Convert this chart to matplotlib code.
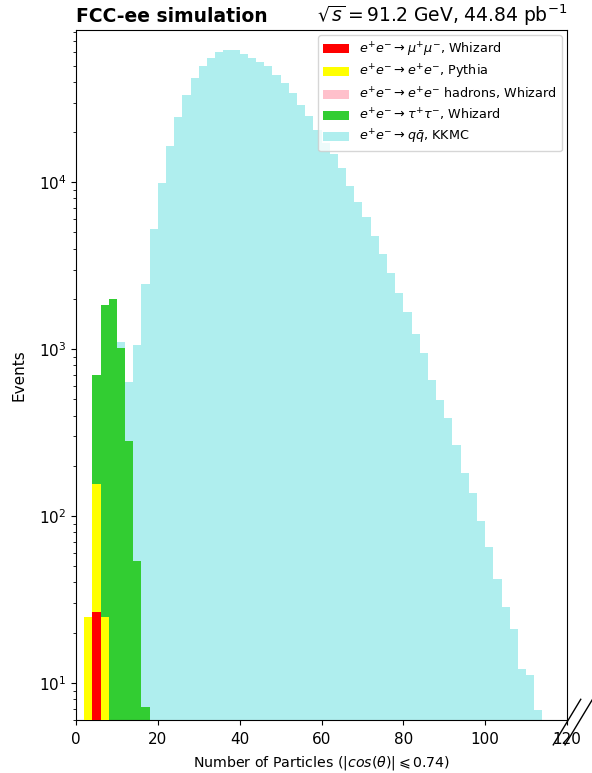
import numpy as np
import matplotlib
matplotlib.use("Agg")
import matplotlib.pyplot as plt
from matplotlib.patches import Patch

# ---------------- data ----------------
bin_width = 2
mumu_start = 4
mumu_counts = [26.5]
ee_start = 2
ee_counts = [24.8, 155, 24.8]
eehad_start = 0
eehad_counts = []
tautau_start = 4
tautau_counts = [700, 1830, 2005, 1010, 280, 54, 7.2]
qq_start = 10
qq_counts = [1107, 638, 1057, 2466, 5250, 9860, 16500, 24700, 33500, 42100,
             49600, 55800, 60200, 62100, 61800, 58500, 55500, 52900, 49400, 44100,
             39300, 34300, 29200, 25100, 20700, 17300, 14700, 12200, 9510, 7570,
             6160, 4790, 3700, 2850, 2180, 1670, 1240, 942, 653, 496,
             386, 268, 181, 138, 94, 65, 42, 28.4, 21.1, 12.2,
             11.1, 6.9]

labels = [r"$e^{+}e^{-} \rightarrow \mu^{+}\mu^{-}$, Whizard",
          r"$e^{+}e^{-} \rightarrow e^{+}e^{-}$, Pythia",
          r"$e^{+}e^{-} \rightarrow e^{+}e^{-}$ hadrons, Whizard",
          r"$e^{+}e^{-} \rightarrow \tau^{+}\tau^{-}$, Whizard",
          r"$e^{+}e^{-} \rightarrow q\bar{q}$, KKMC"]
colors = ["red", "yellow", "pink", "limegreen", "paleturquoise"]
x_ticks = [0, 20, 40, 60, 80, 100, 120]

# ---------------- plot ----------------
fig = plt.figure(figsize=(5.92, 7.73), dpi=100)
ax = fig.add_axes([76 / 592, 53 / 773, 491 / 592, 690 / 773])

def draw(start, counts, color, z):
    if len(counts) == 0:
        return
    lefts = start + bin_width * np.arange(len(counts))
    ax.bar(lefts, counts, width=bin_width, align="edge", color=color,
           linewidth=0, zorder=z)

draw(qq_start, qq_counts, colors[4], 1)
draw(tautau_start, tautau_counts, colors[3], 2)
draw(eehad_start, eehad_counts, colors[2], 3)
draw(ee_start, ee_counts, colors[1], 4)
draw(mumu_start, mumu_counts, colors[0], 5)

ax.set_yscale("log")
ax.set_xlim(0, 120)
ax.set_ylim(6.0, 81700)
ax.set_xticks(x_ticks)
ax.tick_params(labelsize=11)
ax.tick_params(axis="x", pad=5.5)
ax.set_xlabel(r"Number of Particles ($|cos(\theta)| \leqslant 0.74$)", fontsize=10.2,
              labelpad=5)
ax.set_ylabel("Events", fontsize=11, labelpad=9)

handles = [Patch(facecolor=c, edgecolor="none") for c in colors]
ax.legend(handles, labels, loc="upper right", fontsize=9.2, framealpha=0.8,
          labelspacing=0.36, borderaxespad=0.4)

ax.set_title("FCC-ee simulation", loc="left", fontweight="bold", fontsize=13.5)
ax.set_title(r"$\sqrt{s} = 91.2$ GeV, 44.84 pb$^{-1}$", loc="right", fontsize=13.5)

# axis break marks
for dx in (0.0, 0.024):
    ax.plot([0.972 + dx, 1.028 + dx], [-0.036, 0.030], transform=ax.transAxes,
            color="black", lw=1, clip_on=False)

fig.savefig("out.png", dpi=100)
